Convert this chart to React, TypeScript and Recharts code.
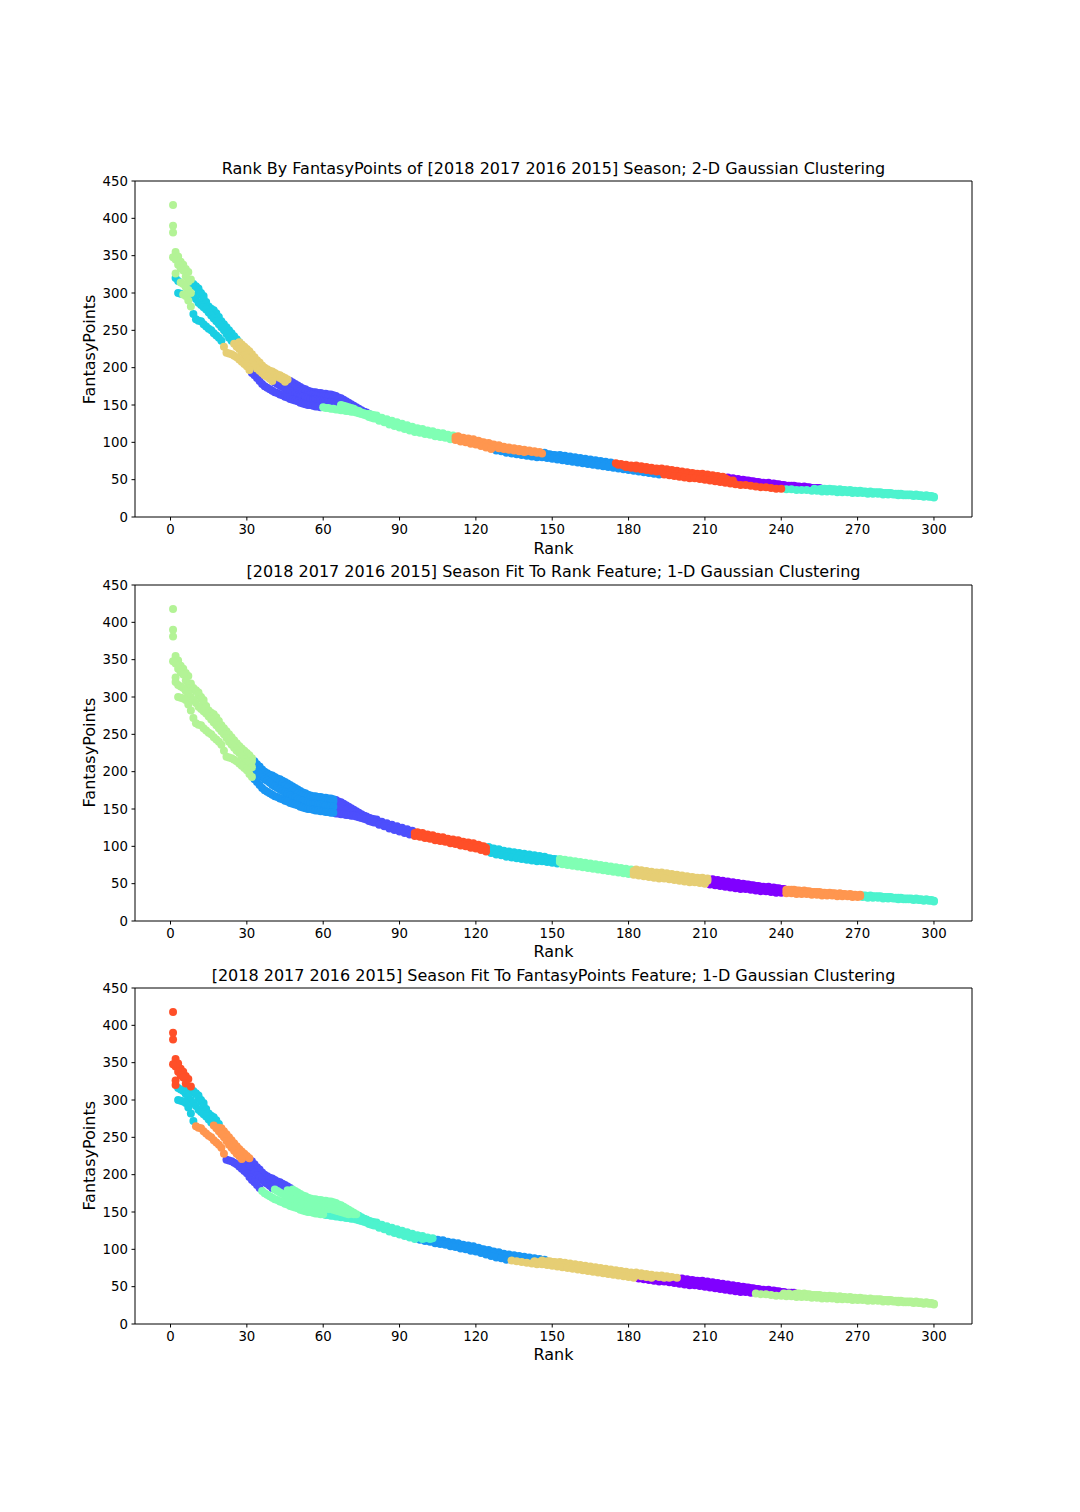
import React from "react"
import { ScatterChart, Scatter, XAxis, YAxis, ReferenceLine } from "recharts"

// matplotlib "rainbow" colours for cluster labels 0..9
const RAINBOW = ["#8000ff", "#4d4ffc", "#1a96f3", "#1acee3", "#4df3ce", "#80ffb4", "#b3f396", "#e6ce74", "#ff964f", "#ff4f28"]

const SEASONS = ["2018", "2017", "2016", "2015"]

// FantasyPoints at ranks 1..80 (every rank) per season
const HEAD_2018 = [
  418, 355, 349, 342, 338, 332, 328, 318, 312, 309, 306, 300, 296, 288, 280, 276, 271, 267, 263, 259,
  255, 251, 247, 243, 240, 237, 234, 231, 228, 225, 222, 218, 214, 210, 207, 203, 200, 198, 196, 195,
  193, 191, 190, 188, 186, 184, 182, 180, 178, 176, 174, 172, 171, 169, 168, 167, 167, 166, 166, 165,
  165, 164, 164, 163, 162, 160, 159, 157, 155, 153, 151, 149, 147, 145, 143, 141, 140, 138, 137, 136,
]
const HEAD_2017 = [
  381, 345, 338, 333, 330, 322, 315, 312, 310, 308, 303, 298, 292, 286, 282, 279, 277, 273, 268, 262,
  258, 254, 250, 246, 242, 238, 234, 230, 227, 224, 219, 214, 210, 207, 204, 201, 198, 196, 194, 192,
  190, 188, 186, 184, 181, 179, 177, 175, 173, 171, 169, 168, 167, 166, 165, 164, 163, 163, 162, 162,
  161, 161, 160, 160, 159, 157, 155, 153, 151, 150, 148, 147, 145, 144, 142, 141, 139, 138, 137, 136,
]
const HEAD_2016 = [
  390, 320, 316, 314, 312, 308, 304, 300, 296, 292, 287, 284, 281, 278, 274, 270, 266, 262, 258, 254,
  250, 245, 240, 236, 232, 228, 225, 221, 217, 213, 210, 206, 203, 199, 196, 193, 190, 188, 185, 182,
  180, 178, 176, 174, 172, 170, 168, 166, 165, 163, 162, 161, 160, 159, 158, 157, 157, 156, 156, 155,
  155, 154, 154, 153, 152, 151, 150, 149, 148, 147, 146, 145, 143, 142, 140, 139, 138, 136, 135, 134,
]
const HEAD_2015 = [
  348, 326, 300, 299, 298, 296, 290, 282, 272, 265, 263, 262, 258, 255, 252, 250, 246, 243, 240, 236,
  228, 220, 219, 218, 216, 214, 211, 208, 205, 202, 197, 193, 190, 186, 182, 178, 175, 173, 171, 169,
  167, 166, 164, 163, 161, 160, 158, 157, 156, 155, 153, 152, 151, 150, 150, 149, 148, 148, 147, 147,
  146, 146, 145, 145, 144, 144, 143, 143, 142, 142, 141, 141, 140, 139, 138, 137, 136, 134, 133, 132,
]

// FantasyPoints past rank 80, read every other rank: 2018/2016 at 81,83,..,299; 2017/2015 at 82,84,..,300
const TAIL_2018 = [
  136, 133, 131, 129, 127, 125, 123, 121, 119, 118, 116, 115, 113, 112, 110, 109, 108, 106, 105, 104,
  102, 100, 99, 97, 96, 94, 93, 92, 91, 90, 89, 88, 87, 86, 84, 83, 83, 82, 81, 80,
  79, 78, 77, 76, 75, 74, 73, 72, 71, 70, 69, 69, 68, 67, 66, 65, 65, 64, 63, 62,
  61, 60, 59, 58, 58, 57, 56, 55, 54, 53, 52, 51, 50, 49, 48, 47, 46, 46, 45, 44,
  43, 42, 42, 41, 41, 40, 39, 39, 38, 38, 37, 37, 36, 36, 35, 35, 34, 34, 33, 33,
  32, 32, 31, 31, 30, 30, 30, 29, 29, 28,
]
const TAIL_2017 = [
  133, 130, 128, 126, 124, 122, 120, 118, 117, 115, 114, 113, 111, 110, 108, 107, 106, 104, 103, 101,
  100, 98, 97, 95, 94, 92, 91, 90, 89, 88, 87, 86, 85, 84, 83, 82, 81, 80, 79, 78,
  77, 76, 75, 74, 73, 72, 71, 70, 69, 68, 67, 67, 66, 65, 64, 63, 62, 62, 61, 60,
  59, 58, 58, 57, 56, 55, 54, 53, 52, 51, 50, 49, 49, 48, 47, 46, 45, 44, 44, 43,
  42, 42, 41, 40, 40, 39, 39, 38, 37, 37, 36, 36, 35, 35, 34, 34, 33, 33, 33, 32,
  32, 31, 31, 30, 30, 29, 29, 28, 28, 27,
]
const TAIL_2016 = [
  132, 130, 127, 125, 123, 121, 119, 117, 116, 114, 112, 111, 110, 108, 107, 105, 104, 102, 101, 100,
  98, 97, 95, 94, 92, 91, 90, 89, 88, 87, 86, 84, 83, 82, 81, 80, 79, 78, 77, 76,
  75, 74, 73, 72, 71, 70, 70, 69, 68, 67, 66, 65, 64, 63, 62, 61, 61, 60, 59, 58,
  58, 57, 56, 55, 54, 54, 53, 52, 51, 50, 49, 48, 47, 46, 46, 45, 44, 43, 43, 42,
  41, 41, 40, 40, 39, 38, 38, 37, 37, 36, 36, 35, 35, 34, 34, 33, 33, 33, 32, 32,
  31, 31, 30, 30, 29, 29, 29, 28, 28, 27,
]
const TAIL_2015 = [
  129, 127, 124, 122, 120, 118, 116, 114, 113, 111, 110, 108, 107, 106, 104, 103, 101, 100, 98, 97,
  95, 93, 91, 89, 88, 86, 85, 84, 83, 82, 81, 80, 80, 79, 78, 77, 76, 75, 74, 73,
  72, 71, 70, 69, 68, 67, 66, 65, 64, 63, 62, 61, 60, 59, 58, 57, 57, 56, 55, 54,
  53, 52, 52, 51, 50, 49, 48, 47, 46, 45, 44, 43, 43, 42, 41, 40, 40, 39, 38, 38,
  37, 37, 36, 36, 36, 35, 35, 34, 34, 34, 33, 33, 33, 32, 32, 32, 31, 31, 31, 30,
  30, 30, 29, 29, 29, 28, 28, 27, 27, 26,
]
const TAIL_FIRST_RANK = [81, 82, 81, 82]

// panel 1: 2-D clusters, as [first rank, cluster label] runs per season
const GMM2D_2018 = [[1, 6], [9, 3], [27, 7], [47, 1], [79, 5], [113, 8], [147, 2], [175, 9], [219, 0], [257, 4]]
const GMM2D_2017 = [[1, 6], [8, 3], [28, 7], [46, 1], [78, 5], [112, 8], [148, 2], [176, 9], [220, 0], [256, 4]]
const GMM2D_2016 = [[1, 6], [2, 3], [4, 6], [9, 3], [25, 7], [41, 1], [67, 5], [125, 8], [141, 2], [179, 9], [223, 0], [253, 4]]
const GMM2D_2015 = [[1, 6], [3, 3], [5, 6], [9, 3], [21, 7], [32, 1], [60, 5], [112, 8], [128, 2], [194, 9], [242, 4]]

// panel 2: clusters on rank (upper rank of each cluster)
const RANK_FIT_BREAKS = [32, 64, 95, 124, 152, 181, 211, 241, 271]
const RANK_FIT_LABELS = [6, 2, 1, 9, 3, 5, 7, 0, 8, 4]

// panel 3: clusters on FantasyPoints (lower points of each cluster)
const POINTS_FIT_BREAKS = [318, 267, 221, 181, 147, 114, 86, 62, 42]
const POINTS_FIT_LABELS = [9, 3, 8, 1, 5, 4, 2, 7, 0, 6]

const X_TICKS = [0, 30, 60, 90, 120, 150, 180, 210, 240, 270, 300]
const Y_TICKS = [0, 50, 100, 150, 200, 250, 300, 350, 400, 450]
const X_DOMAIN = [-13.95, 314.95]
const Y_DOMAIN = [0, 450]

const TITLES = [
  "Rank By FantasyPoints of [2018 2017 2016 2015] Season; 2-D Gaussian Clustering",
  "[2018 2017 2016 2015] Season Fit To Rank Feature; 1-D Gaussian Clustering",
  "[2018 2017 2016 2015] Season Fit To FantasyPoints Feature; 1-D Gaussian Clustering",
]

const FONT = "'DejaVu Sans', sans-serif"
const PANEL_TOPS = [181.4, 584.6, 987.8]
const PANEL_H = 336
const PLOT_LEFT = 135
const PLOT_RIGHT = 972
const DOT_R = 4

type Pt = { season: number; rank: number; pts: number }

const heads = [HEAD_2018, HEAD_2017, HEAD_2016, HEAD_2015]
const tails = [TAIL_2018, TAIL_2017, TAIL_2016, TAIL_2015]
const gmm2d = [GMM2D_2018, GMM2D_2017, GMM2D_2016, GMM2D_2015]

const allPoints: Pt[] = SEASONS.flatMap((_, s) => [
  ...heads[s].map((pts, i) => ({ season: s, rank: i + 1, pts })),
  ...tails[s].map((pts, i) => ({ season: s, rank: TAIL_FIRST_RANK[s] + 2 * i, pts })),
])

function label2d(p: Pt) {
  let lab = gmm2d[p.season][0][1]
  for (const [start, c] of gmm2d[p.season]) if (p.rank >= start) lab = c
  return lab
}

function labelRank(p: Pt) {
  const idx = RANK_FIT_BREAKS.findIndex((b) => p.rank <= b)
  return RANK_FIT_LABELS[idx === -1 ? RANK_FIT_LABELS.length - 1 : idx]
}

function labelPoints(p: Pt) {
  const idx = POINTS_FIT_BREAKS.findIndex((b) => p.pts >= b)
  return POINTS_FIT_LABELS[idx === -1 ? POINTS_FIT_LABELS.length - 1 : idx]
}

function groupBy(fn: (p: Pt) => number) {
  const groups: Pt[][] = RAINBOW.map(() => [])
  allPoints.forEach((p) => groups[fn(p)].push(p))
  return groups
}

const PANEL_GROUPS = [groupBy(label2d), groupBy(labelRank), groupBy(labelPoints)]

const tickStyle = { fill: "#000", fontSize: 13.3, fontFamily: FONT }

function Panel({ top, groups }: { top: number; groups: Pt[][] }) {
  return (
    <div style={{ position: "absolute", left: 0, top: top - 20 }}>
      <ScatterChart width={1080} height={396} margin={{ top: 20, right: 1080 - PLOT_RIGHT, bottom: 10, left: PLOT_LEFT - 60 }}>
        <XAxis
          type="number"
          dataKey="rank"
          domain={X_DOMAIN}
          allowDataOverflow
          ticks={X_TICKS}
          interval={0}
          height={30}
          tick={tickStyle}
          tickSize={3.5}
          tickMargin={4.5}
          axisLine={{ stroke: "#000", strokeWidth: 1 }}
          tickLine={{ stroke: "#000", strokeWidth: 1 }}
        />
        <YAxis
          type="number"
          dataKey="pts"
          domain={Y_DOMAIN}
          allowDataOverflow
          ticks={Y_TICKS}
          interval={0}
          width={60}
          tick={tickStyle}
          tickSize={3.5}
          tickMargin={3.5}
          axisLine={{ stroke: "#000", strokeWidth: 1 }}
          tickLine={{ stroke: "#000", strokeWidth: 1 }}
        />
        <ReferenceLine y={Y_DOMAIN[1]} stroke="#000" strokeWidth={1} />
        <ReferenceLine x={X_DOMAIN[1]} stroke="#000" strokeWidth={1} />
        {groups.map((g, c) => (
          <Scatter
            key={c}
            data={g}
            fill={RAINBOW[c]}
            isAnimationActive={false}
            shape={(p: any) => <circle cx={p.cx} cy={p.cy} r={DOT_R} fill={RAINBOW[c]} />}
          />
        ))}
      </ScatterChart>
    </div>
  )
}

export default function App() {
  const midX = (PLOT_LEFT + PLOT_RIGHT) / 2
  return (
    <div style={{ position: "absolute", left: 0, top: 0, width: 1080, height: 1512, background: "#fff" }}>
      {PANEL_TOPS.map((t, i) => (
        <Panel key={i} top={t} groups={PANEL_GROUPS[i]} />
      ))}
      <svg width={1080} height={1512} style={{ position: "absolute", left: 0, top: 0, pointerEvents: "none" }}>
        {PANEL_TOPS.map((t, i) => {
          const midY = t + PANEL_H / 2
          return (
            <g key={i} fontFamily={FONT} fill="#000" fontSize={16}>
              <text x={midX} y={t - 7.3} textAnchor="middle">{TITLES[i]}</text>
              <text x={midX} y={t + PANEL_H + 36.6} textAnchor="middle">Rank</text>
              <text x={95} y={midY} textAnchor="middle" transform={`rotate(-90 95 ${midY})`}>FantasyPoints</text>
            </g>
          )
        })}
      </svg>
    </div>
  )
}
